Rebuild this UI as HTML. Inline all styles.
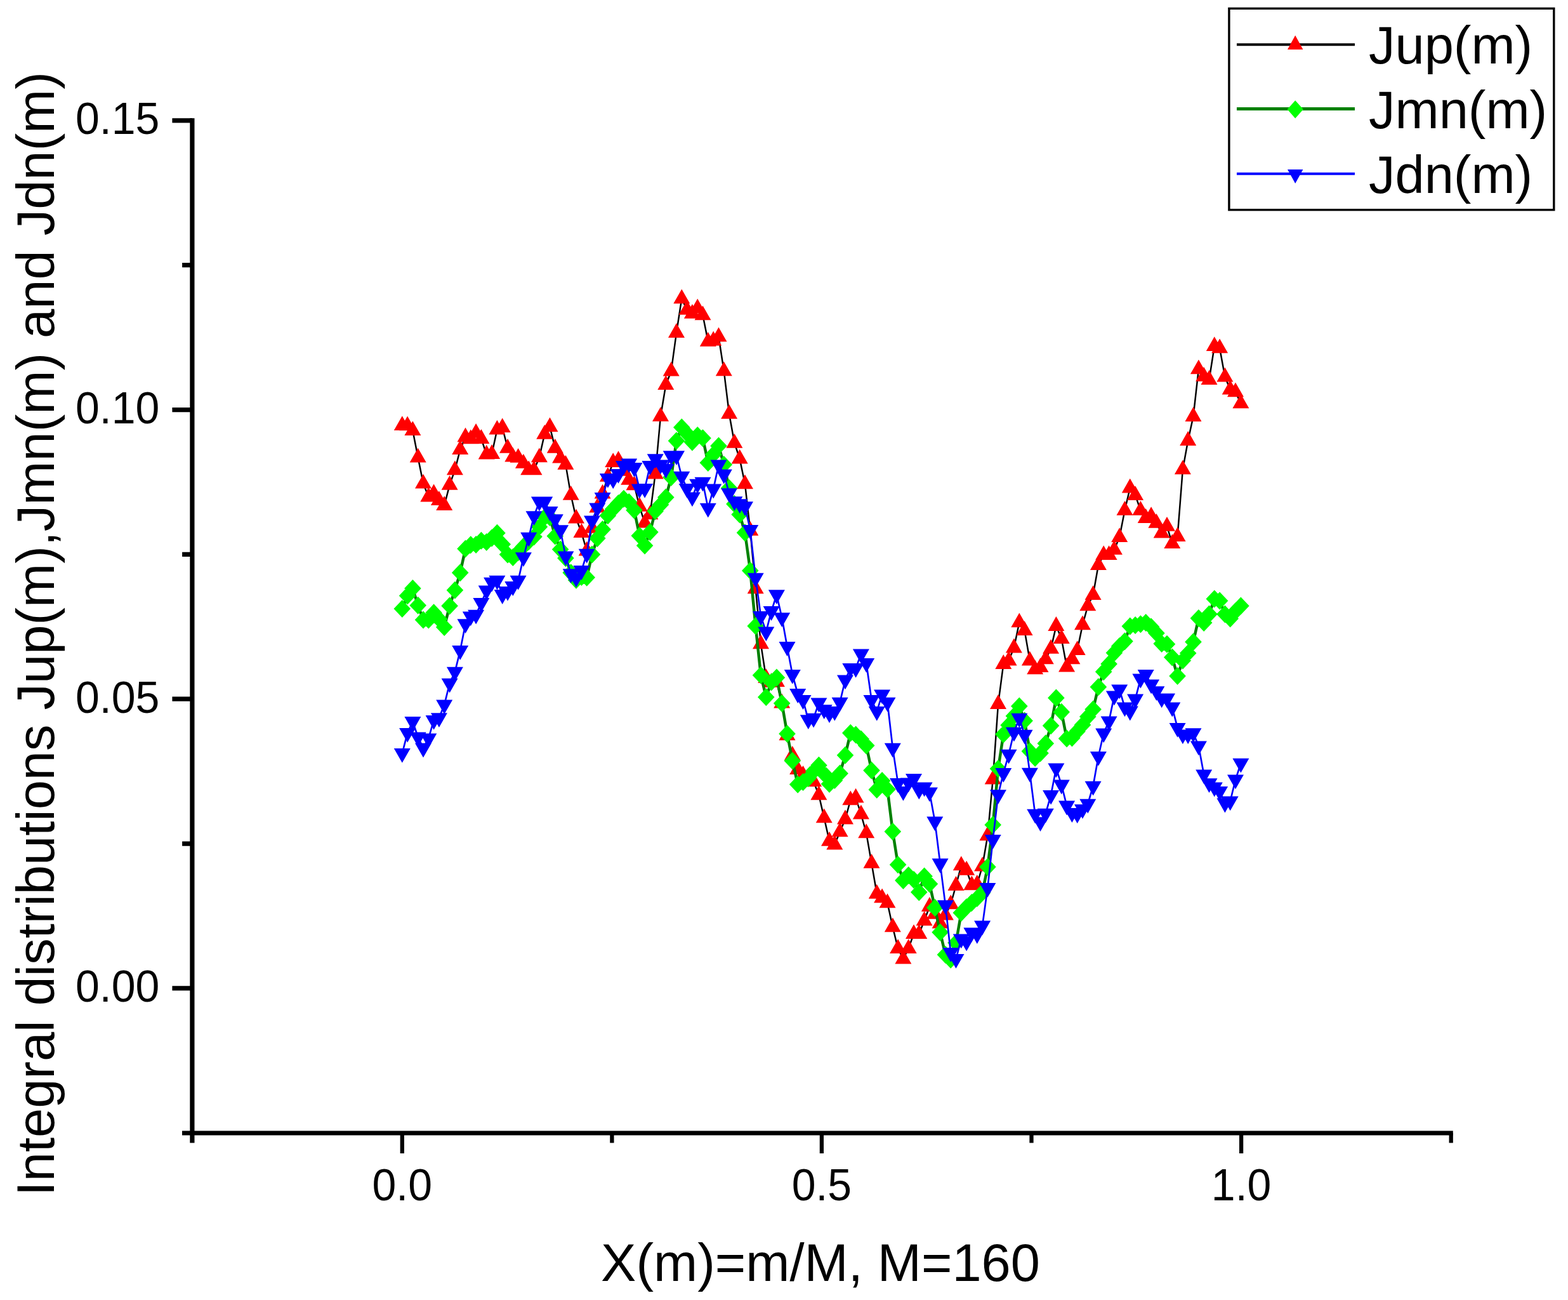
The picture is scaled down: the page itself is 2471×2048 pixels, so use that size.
<!DOCTYPE html>
<html lang="en">
<head>
<meta charset="utf-8">
<title>Integral distributions Jup(m), Jmn(m) and Jdn(m)</title>
<style>
html,body{margin:0;padding:0;background:#fff;}
html,body{width:2471px;height:2048px;}
svg{display:block;}
text{font-family:"Liberation Sans",sans-serif;fill:#000;}
.tk{font-size:68px;}
.ti{font-size:83px;}
.lg{font-size:83px;}
.ln{fill:none;stroke-linejoin:round;stroke-linecap:butt;}
</style>
</head>
<body>
<svg width="2471" height="2048" viewBox="0 0 2471 2048">
<rect x="0" y="0" width="2471" height="2048" fill="#ffffff"/>
<g id="axes">
<path d="M302.9 186.3V1800.5" stroke="#000" stroke-width="7.2" fill="none"/>
<path d="M287 1785.1H2289.8" stroke="#000" stroke-width="7.0" fill="none"/>
<path d="M271.4 189.9H302.9M271.4 645.6H302.9M271.4 1101.2H302.9M271.4 1556.9H302.9M287.1 417.7H302.9M287.1 873.4H302.9M287.1 1329.1H302.9" stroke="#000" stroke-width="7.2" fill="none"/>
<path d="M633.8 1785.1V1816.9M1294.9 1785.1V1816.9M1956.1 1785.1V1816.9M964.4 1785.1V1800.5M1625.5 1785.1V1800.5M2286.7 1785.1V1800.5" stroke="#000" stroke-width="6.3" fill="none"/>
</g>
<g id="ticklabels">
<text class="tk" transform="translate(251.3 211.2) scale(1 1.045)" text-anchor="end">0.15</text>
<text class="tk" transform="translate(251.3 666.9) scale(1 1.045)" text-anchor="end">0.10</text>
<text class="tk" transform="translate(251.3 1122.5) scale(1 1.045)" text-anchor="end">0.05</text>
<text class="tk" transform="translate(251.3 1578.2) scale(1 1.045)" text-anchor="end">0.00</text>
<text class="tk" transform="translate(633.8 1891.3) scale(1 1.045)" text-anchor="middle">0.0</text>
<text class="tk" transform="translate(1294.9 1891.3) scale(1 1.045)" text-anchor="middle">0.5</text>
<text class="tk" transform="translate(1956.1 1891.3) scale(1 1.045)" text-anchor="middle">1.0</text>
</g>
<text class="ti" x="1293" y="2018" text-anchor="middle">X(m)=m/M, M=160</text>
<text class="ti" transform="translate(84.5 998.7) rotate(-90)" text-anchor="middle">Integral distributions Jup(m),Jmn(m) and Jdn(m)</text>
<g id="jup">
<polyline class="ln" points="633.8,670.3 642.1,670.5 650.4,678.2 658.7,720.8 667,761.7 675.3,782.6 683.6,777.5 691.9,788.3 700.2,796.2 708.6,763.9 716.9,740.4 725.2,708.3 733.5,688.5 741.8,691.4 750.1,682 758.4,691.1 766.7,715.8 775.1,715.1 783.4,676.7 791.7,673.4 800,706 808.3,719.8 816.6,721 824.9,730 833.2,740.5 841.5,740.5 849.9,720.5 858.2,683.9 866.5,672.4 874.8,706 883.1,721.6 891.4,732 899.7,780 908,816.8 916.4,839.2 924.7,867.8 933,832 941.3,799.8 949.6,777.8 957.9,751 966.2,728.3 974.5,725.3 982.9,742 991.2,756 999.5,764.5 1007.8,798 1016.1,823.8 1024.4,810.5 1032.7,746.6 1041,656 1049.3,606.2 1057.7,584.7 1066,524.1 1074.3,470.4 1082.6,488 1090.9,493.9 1099.2,485.6 1107.5,496.4 1115.8,538 1124.2,536.6 1132.5,530.5 1140.8,584.4 1149.1,652 1157.4,698 1165.7,722.7 1174,762.5 1182.3,836 1190.7,927.4 1199,1014.5 1207.3,1068.3 1215.6,1075 1223.9,1074.1 1232.2,1107.6 1240.5,1158.5 1248.8,1190 1257.2,1212.3 1265.5,1220.9 1273.8,1226 1282.1,1231.4 1290.4,1252.5 1298.7,1288.4 1307,1325 1315.3,1330.6 1323.6,1310.5 1332,1290.6 1340.3,1260.4 1348.6,1256.8 1356.9,1282.7 1365.2,1312.5 1373.5,1360 1381.8,1408 1390.1,1414.5 1398.5,1422.4 1406.8,1460.4 1415.1,1494.2 1423.4,1510.7 1431.7,1494.2 1440,1471.2 1448.3,1471.2 1456.6,1450.4 1464.9,1428.1 1473.3,1440 1481.6,1454.7 1489.9,1441.8 1498.2,1424.5 1506.5,1395.1 1514.8,1363.5 1523.1,1371 1531.4,1394.4 1539.8,1393 1548.1,1364.8 1556.4,1316.5 1564.7,1227.7 1573,1109.1 1581.3,1046.1 1589.6,1040.7 1597.9,1020.6 1606.3,980.4 1614.6,993.3 1622.9,1040.7 1631.2,1054.4 1639.5,1051.2 1647.8,1038.5 1656.1,1022 1664.4,986.1 1672.8,1006.2 1681.1,1050.7 1689.4,1038.5 1697.7,1024.2 1706,984.4 1714.3,954.5 1722.6,937.3 1730.9,890.3 1739.2,874.2 1747.6,874.2 1755.9,866 1764.2,846.2 1772.5,803.9 1780.8,768.7 1789.1,780.2 1797.4,803.9 1805.7,816.1 1814.1,813.2 1822.4,824 1830.7,839.8 1839,829 1847.3,856.3 1855.6,845.3 1863.9,739.4 1872.2,694.1 1880.5,656.1 1888.9,581.5 1897.2,593 1905.5,598.1 1913.8,545.3 1922.1,548.5 1930.4,593.7 1938.7,613.6 1947,617.4 1955.4,635.4" stroke="#000000" stroke-width="2.5"/>
<path class="mk" d="M633.8 655.3L646.8 678.1L620.8 678.1ZM642.1 655.5L655.1 678.3L629.1 678.3ZM650.4 663.2L663.4 686L637.4 686ZM658.7 705.8L671.7 728.6L645.7 728.6ZM667 746.7L680 769.5L654 769.5ZM675.3 767.6L688.3 790.4L662.3 790.4ZM683.6 762.5L696.6 785.3L670.6 785.3ZM691.9 773.3L704.9 796.1L678.9 796.1ZM700.2 781.2L713.2 804L687.2 804ZM708.6 748.9L721.6 771.7L695.6 771.7ZM716.9 725.4L729.9 748.2L703.9 748.2ZM725.2 693.3L738.2 716.1L712.2 716.1ZM733.5 673.5L746.5 696.3L720.5 696.3ZM741.8 676.4L754.8 699.2L728.8 699.2ZM750.1 667L763.1 689.8L737.1 689.8ZM758.4 676.1L771.4 698.9L745.4 698.9ZM766.7 700.8L779.7 723.6L753.7 723.6ZM775.1 700.1L788.1 722.9L762.1 722.9ZM783.4 661.7L796.4 684.5L770.4 684.5ZM791.7 658.4L804.7 681.2L778.7 681.2ZM800 691L813 713.8L787 713.8ZM808.3 704.8L821.3 727.6L795.3 727.6ZM816.6 706L829.6 728.8L803.6 728.8ZM824.9 715L837.9 737.8L811.9 737.8ZM833.2 725.5L846.2 748.3L820.2 748.3ZM841.5 725.5L854.5 748.3L828.5 748.3ZM849.9 705.5L862.9 728.3L836.9 728.3ZM858.2 668.9L871.2 691.7L845.2 691.7ZM866.5 657.4L879.5 680.2L853.5 680.2ZM874.8 691L887.8 713.8L861.8 713.8ZM883.1 706.6L896.1 729.4L870.1 729.4ZM891.4 717L904.4 739.8L878.4 739.8ZM899.7 765L912.7 787.8L886.7 787.8ZM908 801.8L921 824.6L895 824.6ZM916.4 824.2L929.4 847L903.4 847ZM924.7 852.8L937.7 875.6L911.7 875.6ZM933 817L946 839.8L920 839.8ZM941.3 784.8L954.3 807.6L928.3 807.6ZM949.6 762.8L962.6 785.6L936.6 785.6ZM957.9 736L970.9 758.8L944.9 758.8ZM966.2 713.3L979.2 736.1L953.2 736.1ZM974.5 710.3L987.5 733.1L961.5 733.1ZM982.9 727L995.9 749.8L969.9 749.8ZM991.2 741L1004.2 763.8L978.2 763.8ZM999.5 749.5L1012.5 772.3L986.5 772.3ZM1007.8 783L1020.8 805.8L994.8 805.8ZM1016.1 808.8L1029.1 831.6L1003.1 831.6ZM1024.4 795.5L1037.4 818.3L1011.4 818.3ZM1032.7 731.6L1045.7 754.4L1019.7 754.4ZM1041 641L1054 663.8L1028 663.8ZM1049.3 591.2L1062.3 614L1036.3 614ZM1057.7 569.7L1070.7 592.5L1044.7 592.5ZM1066 509.1L1079 531.9L1053 531.9ZM1074.3 455.4L1087.3 478.2L1061.3 478.2ZM1082.6 473L1095.6 495.8L1069.6 495.8ZM1090.9 478.9L1103.9 501.7L1077.9 501.7ZM1099.2 470.6L1112.2 493.4L1086.2 493.4ZM1107.5 481.4L1120.5 504.2L1094.5 504.2ZM1115.8 523L1128.8 545.8L1102.8 545.8ZM1124.2 521.6L1137.2 544.4L1111.2 544.4ZM1132.5 515.5L1145.5 538.3L1119.5 538.3ZM1140.8 569.4L1153.8 592.2L1127.8 592.2ZM1149.1 637L1162.1 659.8L1136.1 659.8ZM1157.4 683L1170.4 705.8L1144.4 705.8ZM1165.7 707.7L1178.7 730.5L1152.7 730.5ZM1174 747.5L1187 770.3L1161 770.3ZM1182.3 821L1195.3 843.8L1169.3 843.8ZM1190.7 912.4L1203.7 935.2L1177.7 935.2ZM1199 999.5L1212 1022.3L1186 1022.3ZM1207.3 1053.3L1220.3 1076.1L1194.3 1076.1ZM1215.6 1060L1228.6 1082.8L1202.6 1082.8ZM1223.9 1059.1L1236.9 1081.9L1210.9 1081.9ZM1232.2 1092.6L1245.2 1115.4L1219.2 1115.4ZM1240.5 1143.5L1253.5 1166.3L1227.5 1166.3ZM1248.8 1175L1261.8 1197.8L1235.8 1197.8ZM1257.2 1197.3L1270.2 1220.1L1244.2 1220.1ZM1265.5 1205.9L1278.5 1228.7L1252.5 1228.7ZM1273.8 1211L1286.8 1233.8L1260.8 1233.8ZM1282.1 1216.4L1295.1 1239.2L1269.1 1239.2ZM1290.4 1237.5L1303.4 1260.3L1277.4 1260.3ZM1298.7 1273.4L1311.7 1296.2L1285.7 1296.2ZM1307 1310L1320 1332.8L1294 1332.8ZM1315.3 1315.6L1328.3 1338.4L1302.3 1338.4ZM1323.6 1295.5L1336.6 1318.3L1310.6 1318.3ZM1332 1275.6L1345 1298.4L1319 1298.4ZM1340.3 1245.4L1353.3 1268.2L1327.3 1268.2ZM1348.6 1241.8L1361.6 1264.6L1335.6 1264.6ZM1356.9 1267.7L1369.9 1290.5L1343.9 1290.5ZM1365.2 1297.5L1378.2 1320.3L1352.2 1320.3ZM1373.5 1345L1386.5 1367.8L1360.5 1367.8ZM1381.8 1393L1394.8 1415.8L1368.8 1415.8ZM1390.1 1399.5L1403.1 1422.3L1377.1 1422.3ZM1398.5 1407.4L1411.5 1430.2L1385.5 1430.2ZM1406.8 1445.4L1419.8 1468.2L1393.8 1468.2ZM1415.1 1479.2L1428.1 1502L1402.1 1502ZM1423.4 1495.7L1436.4 1518.5L1410.4 1518.5ZM1431.7 1479.2L1444.7 1502L1418.7 1502ZM1440 1456.2L1453 1479L1427 1479ZM1448.3 1456.2L1461.3 1479L1435.3 1479ZM1456.6 1435.4L1469.6 1458.2L1443.6 1458.2ZM1464.9 1413.1L1477.9 1435.9L1451.9 1435.9ZM1473.3 1425L1486.3 1447.8L1460.3 1447.8ZM1481.6 1439.7L1494.6 1462.5L1468.6 1462.5ZM1489.9 1426.8L1502.9 1449.6L1476.9 1449.6ZM1498.2 1409.5L1511.2 1432.3L1485.2 1432.3ZM1506.5 1380.1L1519.5 1402.9L1493.5 1402.9ZM1514.8 1348.5L1527.8 1371.3L1501.8 1371.3ZM1523.1 1356L1536.1 1378.8L1510.1 1378.8ZM1531.4 1379.4L1544.4 1402.2L1518.4 1402.2ZM1539.8 1378L1552.8 1400.8L1526.8 1400.8ZM1548.1 1349.8L1561.1 1372.6L1535.1 1372.6ZM1556.4 1301.5L1569.4 1324.3L1543.4 1324.3ZM1564.7 1212.7L1577.7 1235.5L1551.7 1235.5ZM1573 1094.1L1586 1116.9L1560 1116.9ZM1581.3 1031.1L1594.3 1053.9L1568.3 1053.9ZM1589.6 1025.7L1602.6 1048.5L1576.6 1048.5ZM1597.9 1005.6L1610.9 1028.4L1584.9 1028.4ZM1606.3 965.4L1619.3 988.2L1593.3 988.2ZM1614.6 978.3L1627.6 1001.1L1601.6 1001.1ZM1622.9 1025.7L1635.9 1048.5L1609.9 1048.5ZM1631.2 1039.4L1644.2 1062.2L1618.2 1062.2ZM1639.5 1036.2L1652.5 1059L1626.5 1059ZM1647.8 1023.5L1660.8 1046.3L1634.8 1046.3ZM1656.1 1007L1669.1 1029.8L1643.1 1029.8ZM1664.4 971.1L1677.4 993.9L1651.4 993.9ZM1672.8 991.2L1685.8 1014L1659.8 1014ZM1681.1 1035.7L1694.1 1058.5L1668.1 1058.5ZM1689.4 1023.5L1702.4 1046.3L1676.4 1046.3ZM1697.7 1009.2L1710.7 1032L1684.7 1032ZM1706 969.4L1719 992.2L1693 992.2ZM1714.3 939.5L1727.3 962.3L1701.3 962.3ZM1722.6 922.3L1735.6 945.1L1709.6 945.1ZM1730.9 875.3L1743.9 898.1L1717.9 898.1ZM1739.2 859.2L1752.2 882L1726.2 882ZM1747.6 859.2L1760.6 882L1734.6 882ZM1755.9 851L1768.9 873.8L1742.9 873.8ZM1764.2 831.2L1777.2 854L1751.2 854ZM1772.5 788.9L1785.5 811.7L1759.5 811.7ZM1780.8 753.7L1793.8 776.5L1767.8 776.5ZM1789.1 765.2L1802.1 788L1776.1 788ZM1797.4 788.9L1810.4 811.7L1784.4 811.7ZM1805.7 801.1L1818.7 823.9L1792.7 823.9ZM1814.1 798.2L1827.1 821L1801.1 821ZM1822.4 809L1835.4 831.8L1809.4 831.8ZM1830.7 824.8L1843.7 847.6L1817.7 847.6ZM1839 814L1852 836.8L1826 836.8ZM1847.3 841.3L1860.3 864.1L1834.3 864.1ZM1855.6 830.3L1868.6 853.1L1842.6 853.1ZM1863.9 724.4L1876.9 747.2L1850.9 747.2ZM1872.2 679.1L1885.2 701.9L1859.2 701.9ZM1880.5 641.1L1893.5 663.9L1867.5 663.9ZM1888.9 566.5L1901.9 589.3L1875.9 589.3ZM1897.2 578L1910.2 600.8L1884.2 600.8ZM1905.5 583.1L1918.5 605.9L1892.5 605.9ZM1913.8 530.3L1926.8 553.1L1900.8 553.1ZM1922.1 533.5L1935.1 556.3L1909.1 556.3ZM1930.4 578.7L1943.4 601.5L1917.4 601.5ZM1938.7 598.6L1951.7 621.4L1925.7 621.4ZM1947 602.4L1960 625.2L1934 625.2ZM1955.4 620.4L1968.4 643.2L1942.4 643.2Z" fill="#ff0000"/>
</g>
<g id="jmn">
<polyline class="ln" points="633.8,959.1 642.1,938.6 650.4,927.1 658.7,953.7 667,976.6 675.3,976.5 683.6,965.3 691.9,975.2 700.2,988 708.6,954.4 716.9,929.7 725.2,902.3 733.5,864.6 741.8,858.3 750.1,858 758.4,851.8 766.7,854 775.1,847.4 783.4,839.8 791.7,857.4 800,873.5 808.3,878.1 816.6,870 824.9,861 833.2,853 841.5,845.5 849.9,830 858.2,815 866.5,815 874.8,844.5 883.1,865.5 891.4,879.3 899.7,902.3 908,913.7 916.4,909 924.7,909.7 933,873.6 941.3,848 949.6,834 957.9,812.2 966.2,802 974.5,793 982.9,785.8 991.2,791 999.5,803.7 1007.8,843.9 1016.1,859.6 1024.4,838.2 1032.7,805.2 1041,795 1049.3,783.6 1057.7,752 1066,694.6 1074.3,673.2 1082.6,683 1090.9,696.6 1099.2,686.1 1107.5,690.3 1115.8,729 1124.2,716 1132.5,702.6 1140.8,731.9 1149.1,769 1157.4,794.1 1165.7,810.6 1174,839.3 1182.3,898.9 1190.7,986.2 1199,1063.7 1207.3,1098.2 1215.6,1074.4 1223.9,1067.5 1232.2,1108 1240.5,1155.9 1248.8,1198.4 1257.2,1235.7 1265.5,1232 1273.8,1226 1282.1,1215 1290.4,1205.7 1298.7,1219 1307,1234.9 1315.3,1229 1323.6,1218.5 1332,1189.8 1340.3,1154.8 1348.6,1157.4 1356.9,1164.6 1365.2,1174.6 1373.5,1213.8 1381.8,1243.9 1390.1,1229.9 1398.5,1243.5 1406.8,1310 1415.1,1362.2 1423.4,1386.9 1431.7,1379.1 1440,1386 1448.3,1405.4 1456.6,1380.6 1464.9,1392.6 1473.3,1430 1481.6,1468.7 1489.9,1503.9 1498.2,1511.7 1506.5,1485.3 1514.8,1437.9 1523.1,1429.3 1531.4,1422 1539.8,1414.9 1548.1,1406.3 1556.4,1365.8 1564.7,1299.5 1573,1211 1581.3,1156.8 1589.6,1142.4 1597.9,1128 1606.3,1112.6 1614.6,1135.4 1622.9,1183.5 1631.2,1194.1 1639.5,1186.4 1647.8,1171.3 1656.1,1143.3 1664.4,1099.6 1672.8,1121.8 1681.1,1163.4 1689.4,1162.5 1697.7,1151.9 1706,1141.9 1714.3,1128.9 1722.6,1117.4 1730.9,1082.3 1739.2,1058.3 1747.6,1046 1755.9,1028.6 1764.2,1018 1772.5,1010.3 1780.8,986.6 1789.1,985 1797.4,983.2 1805.7,980.9 1814.1,987.5 1822.4,997.6 1830.7,1014.1 1839,1014.8 1847.3,1035.6 1855.6,1065.1 1863.9,1040.5 1872.2,1029.1 1880.5,1011.2 1888.9,973.9 1897.2,980.9 1905.5,967.4 1913.8,943.6 1922.1,946.6 1930.4,967.4 1938.7,974.4 1947,963.1 1955.4,954.5" stroke="#008000" stroke-width="4.5"/>
<path class="mk" d="M633.8 945.1L647 959.1L633.8 973.1L620.5 959.1ZM642.1 924.6L655.4 938.6L642.1 952.6L628.8 938.6ZM650.4 913.1L663.7 927.1L650.4 941.1L637.1 927.1ZM658.7 939.7L672 953.7L658.7 967.7L645.4 953.7ZM667 962.6L680.3 976.6L667 990.6L653.7 976.6ZM675.3 962.5L688.6 976.5L675.3 990.5L662 976.5ZM683.6 951.3L696.9 965.3L683.6 979.3L670.3 965.3ZM691.9 961.2L705.2 975.2L691.9 989.2L678.6 975.2ZM700.2 974L713.5 988L700.2 1002L686.9 988ZM708.6 940.4L721.9 954.4L708.6 968.4L695.3 954.4ZM716.9 915.7L730.2 929.7L716.9 943.7L703.6 929.7ZM725.2 888.3L738.5 902.3L725.2 916.3L711.9 902.3ZM733.5 850.6L746.8 864.6L733.5 878.6L720.2 864.6ZM741.8 844.3L755.1 858.3L741.8 872.3L728.5 858.3ZM750.1 844L763.4 858L750.1 872L736.8 858ZM758.4 837.8L771.7 851.8L758.4 865.8L745.1 851.8ZM766.7 840L780 854L766.7 868L753.4 854ZM775.1 833.4L788.4 847.4L775.1 861.4L761.8 847.4ZM783.4 825.8L796.7 839.8L783.4 853.8L770.1 839.8ZM791.7 843.4L805 857.4L791.7 871.4L778.4 857.4ZM800 859.5L813.3 873.5L800 887.5L786.7 873.5ZM808.3 864.1L821.6 878.1L808.3 892.1L795 878.1ZM816.6 856L829.9 870L816.6 884L803.3 870ZM824.9 847L838.2 861L824.9 875L811.6 861ZM833.2 839L846.5 853L833.2 867L819.9 853ZM841.5 831.5L854.8 845.5L841.5 859.5L828.2 845.5ZM849.9 816L863.2 830L849.9 844L836.6 830ZM858.2 801L871.5 815L858.2 829L844.9 815ZM866.5 801L879.8 815L866.5 829L853.2 815ZM874.8 830.5L888.1 844.5L874.8 858.5L861.5 844.5ZM883.1 851.5L896.4 865.5L883.1 879.5L869.8 865.5ZM891.4 865.3L904.7 879.3L891.4 893.3L878.1 879.3ZM899.7 888.3L913 902.3L899.7 916.3L886.4 902.3ZM908 899.7L921.3 913.7L908 927.7L894.7 913.7ZM916.4 895L929.7 909L916.4 923L903.1 909ZM924.7 895.7L938 909.7L924.7 923.7L911.4 909.7ZM933 859.6L946.3 873.6L933 887.6L919.7 873.6ZM941.3 834L954.6 848L941.3 862L928 848ZM949.6 820L962.9 834L949.6 848L936.3 834ZM957.9 798.2L971.2 812.2L957.9 826.2L944.6 812.2ZM966.2 788L979.5 802L966.2 816L952.9 802ZM974.5 779L987.8 793L974.5 807L961.2 793ZM982.9 771.8L996.2 785.8L982.9 799.8L969.6 785.8ZM991.2 777L1004.5 791L991.2 805L977.9 791ZM999.5 789.7L1012.8 803.7L999.5 817.7L986.2 803.7ZM1007.8 829.9L1021.1 843.9L1007.8 857.9L994.5 843.9ZM1016.1 845.6L1029.4 859.6L1016.1 873.6L1002.8 859.6ZM1024.4 824.2L1037.7 838.2L1024.4 852.2L1011.1 838.2ZM1032.7 791.2L1046 805.2L1032.7 819.2L1019.4 805.2ZM1041 781L1054.3 795L1041 809L1027.7 795ZM1049.3 769.6L1062.6 783.6L1049.3 797.6L1036 783.6ZM1057.7 738L1071 752L1057.7 766L1044.4 752ZM1066 680.6L1079.3 694.6L1066 708.6L1052.7 694.6ZM1074.3 659.2L1087.6 673.2L1074.3 687.2L1061 673.2ZM1082.6 669L1095.9 683L1082.6 697L1069.3 683ZM1090.9 682.6L1104.2 696.6L1090.9 710.6L1077.6 696.6ZM1099.2 672.1L1112.5 686.1L1099.2 700.1L1085.9 686.1ZM1107.5 676.3L1120.8 690.3L1107.5 704.3L1094.2 690.3ZM1115.8 715L1129.1 729L1115.8 743L1102.5 729ZM1124.2 702L1137.5 716L1124.2 730L1110.9 716ZM1132.5 688.6L1145.8 702.6L1132.5 716.6L1119.2 702.6ZM1140.8 717.9L1154.1 731.9L1140.8 745.9L1127.5 731.9ZM1149.1 755L1162.4 769L1149.1 783L1135.8 769ZM1157.4 780.1L1170.7 794.1L1157.4 808.1L1144.1 794.1ZM1165.7 796.6L1179 810.6L1165.7 824.6L1152.4 810.6ZM1174 825.3L1187.3 839.3L1174 853.3L1160.7 839.3ZM1182.3 884.9L1195.6 898.9L1182.3 912.9L1169 898.9ZM1190.7 972.2L1204 986.2L1190.7 1000.2L1177.4 986.2ZM1199 1049.7L1212.3 1063.7L1199 1077.7L1185.7 1063.7ZM1207.3 1084.2L1220.6 1098.2L1207.3 1112.2L1194 1098.2ZM1215.6 1060.4L1228.9 1074.4L1215.6 1088.4L1202.3 1074.4ZM1223.9 1053.5L1237.2 1067.5L1223.9 1081.5L1210.6 1067.5ZM1232.2 1094L1245.5 1108L1232.2 1122L1218.9 1108ZM1240.5 1141.9L1253.8 1155.9L1240.5 1169.9L1227.2 1155.9ZM1248.8 1184.4L1262.1 1198.4L1248.8 1212.4L1235.5 1198.4ZM1257.2 1221.7L1270.5 1235.7L1257.2 1249.7L1243.9 1235.7ZM1265.5 1218L1278.8 1232L1265.5 1246L1252.2 1232ZM1273.8 1212L1287.1 1226L1273.8 1240L1260.5 1226ZM1282.1 1201L1295.4 1215L1282.1 1229L1268.8 1215ZM1290.4 1191.7L1303.7 1205.7L1290.4 1219.7L1277.1 1205.7ZM1298.7 1205L1312 1219L1298.7 1233L1285.4 1219ZM1307 1220.9L1320.3 1234.9L1307 1248.9L1293.7 1234.9ZM1315.3 1215L1328.6 1229L1315.3 1243L1302 1229ZM1323.6 1204.5L1336.9 1218.5L1323.6 1232.5L1310.3 1218.5ZM1332 1175.8L1345.3 1189.8L1332 1203.8L1318.7 1189.8ZM1340.3 1140.8L1353.6 1154.8L1340.3 1168.8L1327 1154.8ZM1348.6 1143.4L1361.9 1157.4L1348.6 1171.4L1335.3 1157.4ZM1356.9 1150.6L1370.2 1164.6L1356.9 1178.6L1343.6 1164.6ZM1365.2 1160.6L1378.5 1174.6L1365.2 1188.6L1351.9 1174.6ZM1373.5 1199.8L1386.8 1213.8L1373.5 1227.8L1360.2 1213.8ZM1381.8 1229.9L1395.1 1243.9L1381.8 1257.9L1368.5 1243.9ZM1390.1 1215.9L1403.4 1229.9L1390.1 1243.9L1376.8 1229.9ZM1398.5 1229.5L1411.8 1243.5L1398.5 1257.5L1385.2 1243.5ZM1406.8 1296L1420.1 1310L1406.8 1324L1393.5 1310ZM1415.1 1348.2L1428.4 1362.2L1415.1 1376.2L1401.8 1362.2ZM1423.4 1372.9L1436.7 1386.9L1423.4 1400.9L1410.1 1386.9ZM1431.7 1365.1L1445 1379.1L1431.7 1393.1L1418.4 1379.1ZM1440 1372L1453.3 1386L1440 1400L1426.7 1386ZM1448.3 1391.4L1461.6 1405.4L1448.3 1419.4L1435 1405.4ZM1456.6 1366.6L1469.9 1380.6L1456.6 1394.6L1443.3 1380.6ZM1464.9 1378.6L1478.2 1392.6L1464.9 1406.6L1451.6 1392.6ZM1473.3 1416L1486.6 1430L1473.3 1444L1460 1430ZM1481.6 1454.7L1494.9 1468.7L1481.6 1482.7L1468.3 1468.7ZM1489.9 1489.9L1503.2 1503.9L1489.9 1517.9L1476.6 1503.9ZM1498.2 1497.7L1511.5 1511.7L1498.2 1525.7L1484.9 1511.7ZM1506.5 1471.3L1519.8 1485.3L1506.5 1499.3L1493.2 1485.3ZM1514.8 1423.9L1528.1 1437.9L1514.8 1451.9L1501.5 1437.9ZM1523.1 1415.3L1536.4 1429.3L1523.1 1443.3L1509.8 1429.3ZM1531.4 1408L1544.7 1422L1531.4 1436L1518.1 1422ZM1539.8 1400.9L1553.1 1414.9L1539.8 1428.9L1526.5 1414.9ZM1548.1 1392.3L1561.4 1406.3L1548.1 1420.3L1534.8 1406.3ZM1556.4 1351.8L1569.7 1365.8L1556.4 1379.8L1543.1 1365.8ZM1564.7 1285.5L1578 1299.5L1564.7 1313.5L1551.4 1299.5ZM1573 1197L1586.3 1211L1573 1225L1559.7 1211ZM1581.3 1142.8L1594.6 1156.8L1581.3 1170.8L1568 1156.8ZM1589.6 1128.4L1602.9 1142.4L1589.6 1156.4L1576.3 1142.4ZM1597.9 1114L1611.2 1128L1597.9 1142L1584.6 1128ZM1606.3 1098.6L1619.6 1112.6L1606.3 1126.6L1593 1112.6ZM1614.6 1121.4L1627.9 1135.4L1614.6 1149.4L1601.3 1135.4ZM1622.9 1169.5L1636.2 1183.5L1622.9 1197.5L1609.6 1183.5ZM1631.2 1180.1L1644.5 1194.1L1631.2 1208.1L1617.9 1194.1ZM1639.5 1172.4L1652.8 1186.4L1639.5 1200.4L1626.2 1186.4ZM1647.8 1157.3L1661.1 1171.3L1647.8 1185.3L1634.5 1171.3ZM1656.1 1129.3L1669.4 1143.3L1656.1 1157.3L1642.8 1143.3ZM1664.4 1085.6L1677.7 1099.6L1664.4 1113.6L1651.1 1099.6ZM1672.8 1107.8L1686 1121.8L1672.8 1135.8L1659.5 1121.8ZM1681.1 1149.4L1694.4 1163.4L1681.1 1177.4L1667.8 1163.4ZM1689.4 1148.5L1702.7 1162.5L1689.4 1176.5L1676.1 1162.5ZM1697.7 1137.9L1711 1151.9L1697.7 1165.9L1684.4 1151.9ZM1706 1127.9L1719.3 1141.9L1706 1155.9L1692.7 1141.9ZM1714.3 1114.9L1727.6 1128.9L1714.3 1142.9L1701 1128.9ZM1722.6 1103.4L1735.9 1117.4L1722.6 1131.4L1709.3 1117.4ZM1730.9 1068.3L1744.2 1082.3L1730.9 1096.3L1717.6 1082.3ZM1739.2 1044.3L1752.5 1058.3L1739.2 1072.3L1725.9 1058.3ZM1747.6 1032L1760.9 1046L1747.6 1060L1734.3 1046ZM1755.9 1014.6L1769.2 1028.6L1755.9 1042.6L1742.6 1028.6ZM1764.2 1004L1777.5 1018L1764.2 1032L1750.9 1018ZM1772.5 996.3L1785.8 1010.3L1772.5 1024.3L1759.2 1010.3ZM1780.8 972.6L1794.1 986.6L1780.8 1000.6L1767.5 986.6ZM1789.1 971L1802.4 985L1789.1 999L1775.8 985ZM1797.4 969.2L1810.7 983.2L1797.4 997.2L1784.1 983.2ZM1805.7 966.9L1819 980.9L1805.7 994.9L1792.4 980.9ZM1814.1 973.5L1827.4 987.5L1814.1 1001.5L1800.8 987.5ZM1822.4 983.6L1835.7 997.6L1822.4 1011.6L1809.1 997.6ZM1830.7 1000.1L1844 1014.1L1830.7 1028.1L1817.4 1014.1ZM1839 1000.8L1852.3 1014.8L1839 1028.8L1825.7 1014.8ZM1847.3 1021.6L1860.6 1035.6L1847.3 1049.6L1834 1035.6ZM1855.6 1051.1L1868.9 1065.1L1855.6 1079.1L1842.3 1065.1ZM1863.9 1026.5L1877.2 1040.5L1863.9 1054.5L1850.6 1040.5ZM1872.2 1015.1L1885.5 1029.1L1872.2 1043.1L1858.9 1029.1ZM1880.5 997.2L1893.8 1011.2L1880.5 1025.2L1867.2 1011.2ZM1888.9 959.9L1902.2 973.9L1888.9 987.9L1875.6 973.9ZM1897.2 966.9L1910.5 980.9L1897.2 994.9L1883.9 980.9ZM1905.5 953.4L1918.8 967.4L1905.5 981.4L1892.2 967.4ZM1913.8 929.6L1927.1 943.6L1913.8 957.6L1900.5 943.6ZM1922.1 932.6L1935.4 946.6L1922.1 960.6L1908.8 946.6ZM1930.4 953.4L1943.7 967.4L1930.4 981.4L1917.1 967.4ZM1938.7 960.4L1952 974.4L1938.7 988.4L1925.4 974.4ZM1947 949.1L1960.3 963.1L1947 977.1L1933.7 963.1ZM1955.4 940.5L1968.7 954.5L1955.4 968.5L1942.1 954.5Z" fill="#00ff00"/>
</g>
<g id="jdn">
<polyline class="ln" points="633.8,1186.8 642.1,1154.8 650.4,1136.9 658.7,1161.3 667,1178.5 675.3,1163.4 683.6,1134.7 691.9,1131.1 700.2,1110.3 708.6,1076.5 716.9,1058.6 725.2,1024.7 733.5,983.1 741.8,971.3 750.1,968.5 758.4,949.8 766.7,930.4 775.1,917.5 783.4,914.6 791.7,936.9 800,931.8 808.3,923.9 816.6,914.6 824.9,878.1 833.2,846.5 841.5,813.1 849.9,790.4 858.2,790.4 866.5,805.9 874.8,818 883.1,835 891.4,876.4 899.7,904.1 908,910.6 916.4,898.9 924.7,872.5 933,820.2 941.3,800.3 949.6,783.8 957.9,753.8 966.2,755.3 974.5,746.7 982.9,733.8 991.2,730.2 999.5,736.7 1007.8,770.4 1016.1,769.7 1024.4,733.8 1032.7,723 1041,732.3 1049.3,738.8 1057.7,718 1066,718 1074.3,750.6 1082.6,769.7 1090.9,783.3 1099.2,762.5 1107.5,759.6 1115.8,800.6 1124.2,770.4 1132.5,732.3 1140.8,747.4 1149.1,777 1157.4,790 1165.7,794 1174,798.1 1182.3,834.7 1190.7,910.6 1199,970.8 1207.3,995.2 1215.6,962.9 1223.9,937 1232.2,973 1240.5,1018.9 1248.8,1062.7 1257.2,1092.9 1265.5,1102.9 1273.8,1134 1282.1,1131.6 1290.4,1107.2 1298.7,1118 1307,1124 1315.3,1120.7 1323.6,1106.5 1332,1071.3 1340.3,1052.7 1348.6,1052.7 1356.9,1030.4 1365.2,1044.8 1373.5,1102.9 1381.8,1120.7 1390.1,1094.3 1398.5,1106.5 1406.8,1178.6 1415.1,1233.9 1423.4,1246.8 1431.7,1233.3 1440,1226.7 1448.3,1244.6 1456.6,1240.3 1464.9,1248.2 1473.3,1294.2 1481.6,1360.4 1489.9,1426.1 1498.2,1500.8 1506.5,1510.8 1514.8,1479.2 1523.1,1483.5 1531.4,1469.2 1539.8,1472 1548.1,1458.4 1556.4,1398.8 1564.7,1322.8 1573,1252 1581.3,1217.8 1589.6,1188.5 1597.9,1153.6 1606.3,1131.5 1614.6,1157.5 1622.9,1217.5 1631.2,1282.5 1639.5,1295 1647.8,1281.6 1656.1,1252.7 1664.4,1210.3 1672.8,1236.4 1681.1,1269.4 1689.4,1280.9 1697.7,1282.3 1706,1275.1 1714.3,1266.5 1722.6,1238.5 1730.9,1191.8 1739.2,1155.2 1747.6,1136.2 1755.9,1096.4 1764.2,1086.3 1772.5,1114.3 1780.8,1120.4 1789.1,1101.4 1797.4,1069.4 1805.7,1062.8 1814.1,1078.3 1822.4,1089 1830.7,1100.2 1839,1100.4 1847.3,1114.4 1855.6,1146.7 1863.9,1157.3 1872.2,1157.3 1880.5,1155 1888.9,1175.3 1897.2,1220.3 1905.5,1234.1 1913.8,1240.4 1922.1,1246.7 1930.4,1265.4 1938.7,1262.2 1947,1228.3 1955.4,1202.5" stroke="#0000ff" stroke-width="2.7"/>
<path class="mk" d="M633.8 1201.8L646.8 1179L620.8 1179ZM642.1 1169.8L655.1 1147L629.1 1147ZM650.4 1151.9L663.4 1129.1L637.4 1129.1ZM658.7 1176.3L671.7 1153.5L645.7 1153.5ZM667 1193.5L680 1170.7L654 1170.7ZM675.3 1178.4L688.3 1155.6L662.3 1155.6ZM683.6 1149.7L696.6 1126.9L670.6 1126.9ZM691.9 1146.1L704.9 1123.3L678.9 1123.3ZM700.2 1125.3L713.2 1102.5L687.2 1102.5ZM708.6 1091.5L721.6 1068.7L695.6 1068.7ZM716.9 1073.6L729.9 1050.8L703.9 1050.8ZM725.2 1039.7L738.2 1016.9L712.2 1016.9ZM733.5 998.1L746.5 975.3L720.5 975.3ZM741.8 986.3L754.8 963.5L728.8 963.5ZM750.1 983.5L763.1 960.7L737.1 960.7ZM758.4 964.8L771.4 942L745.4 942ZM766.7 945.4L779.7 922.6L753.7 922.6ZM775.1 932.5L788.1 909.7L762.1 909.7ZM783.4 929.6L796.4 906.8L770.4 906.8ZM791.7 951.9L804.7 929.1L778.7 929.1ZM800 946.8L813 924L787 924ZM808.3 938.9L821.3 916.1L795.3 916.1ZM816.6 929.6L829.6 906.8L803.6 906.8ZM824.9 893.1L837.9 870.3L811.9 870.3ZM833.2 861.5L846.2 838.7L820.2 838.7ZM841.5 828.1L854.5 805.3L828.5 805.3ZM849.9 805.4L862.9 782.6L836.9 782.6ZM858.2 805.4L871.2 782.6L845.2 782.6ZM866.5 820.9L879.5 798.1L853.5 798.1ZM874.8 833L887.8 810.2L861.8 810.2ZM883.1 850L896.1 827.2L870.1 827.2ZM891.4 891.4L904.4 868.6L878.4 868.6ZM899.7 919.1L912.7 896.3L886.7 896.3ZM908 925.6L921 902.8L895 902.8ZM916.4 913.9L929.4 891.1L903.4 891.1ZM924.7 887.5L937.7 864.7L911.7 864.7ZM933 835.2L946 812.4L920 812.4ZM941.3 815.3L954.3 792.5L928.3 792.5ZM949.6 798.8L962.6 776L936.6 776ZM957.9 768.8L970.9 746L944.9 746ZM966.2 770.3L979.2 747.5L953.2 747.5ZM974.5 761.7L987.5 738.9L961.5 738.9ZM982.9 748.8L995.9 726L969.9 726ZM991.2 745.2L1004.2 722.4L978.2 722.4ZM999.5 751.7L1012.5 728.9L986.5 728.9ZM1007.8 785.4L1020.8 762.6L994.8 762.6ZM1016.1 784.7L1029.1 761.9L1003.1 761.9ZM1024.4 748.8L1037.4 726L1011.4 726ZM1032.7 738L1045.7 715.2L1019.7 715.2ZM1041 747.3L1054 724.5L1028 724.5ZM1049.3 753.8L1062.3 731L1036.3 731ZM1057.7 733L1070.7 710.2L1044.7 710.2ZM1066 733L1079 710.2L1053 710.2ZM1074.3 765.6L1087.3 742.8L1061.3 742.8ZM1082.6 784.7L1095.6 761.9L1069.6 761.9ZM1090.9 798.3L1103.9 775.5L1077.9 775.5ZM1099.2 777.5L1112.2 754.7L1086.2 754.7ZM1107.5 774.6L1120.5 751.8L1094.5 751.8ZM1115.8 815.6L1128.8 792.8L1102.8 792.8ZM1124.2 785.4L1137.2 762.6L1111.2 762.6ZM1132.5 747.3L1145.5 724.5L1119.5 724.5ZM1140.8 762.4L1153.8 739.6L1127.8 739.6ZM1149.1 792L1162.1 769.2L1136.1 769.2ZM1157.4 805L1170.4 782.2L1144.4 782.2ZM1165.7 809L1178.7 786.2L1152.7 786.2ZM1174 813.1L1187 790.3L1161 790.3ZM1182.3 849.7L1195.3 826.9L1169.3 826.9ZM1190.7 925.6L1203.7 902.8L1177.7 902.8ZM1199 985.8L1212 963L1186 963ZM1207.3 1010.2L1220.3 987.4L1194.3 987.4ZM1215.6 977.9L1228.6 955.1L1202.6 955.1ZM1223.9 952L1236.9 929.2L1210.9 929.2ZM1232.2 988L1245.2 965.2L1219.2 965.2ZM1240.5 1033.9L1253.5 1011.1L1227.5 1011.1ZM1248.8 1077.7L1261.8 1054.9L1235.8 1054.9ZM1257.2 1107.9L1270.2 1085.1L1244.2 1085.1ZM1265.5 1117.9L1278.5 1095.1L1252.5 1095.1ZM1273.8 1149L1286.8 1126.2L1260.8 1126.2ZM1282.1 1146.6L1295.1 1123.8L1269.1 1123.8ZM1290.4 1122.2L1303.4 1099.4L1277.4 1099.4ZM1298.7 1133L1311.7 1110.2L1285.7 1110.2ZM1307 1139L1320 1116.2L1294 1116.2ZM1315.3 1135.7L1328.3 1112.9L1302.3 1112.9ZM1323.6 1121.5L1336.6 1098.7L1310.6 1098.7ZM1332 1086.3L1345 1063.5L1319 1063.5ZM1340.3 1067.7L1353.3 1044.9L1327.3 1044.9ZM1348.6 1067.7L1361.6 1044.9L1335.6 1044.9ZM1356.9 1045.4L1369.9 1022.6L1343.9 1022.6ZM1365.2 1059.8L1378.2 1037L1352.2 1037ZM1373.5 1117.9L1386.5 1095.1L1360.5 1095.1ZM1381.8 1135.7L1394.8 1112.9L1368.8 1112.9ZM1390.1 1109.3L1403.1 1086.5L1377.1 1086.5ZM1398.5 1121.5L1411.5 1098.7L1385.5 1098.7ZM1406.8 1193.6L1419.8 1170.8L1393.8 1170.8ZM1415.1 1248.9L1428.1 1226.1L1402.1 1226.1ZM1423.4 1261.8L1436.4 1239L1410.4 1239ZM1431.7 1248.3L1444.7 1225.5L1418.7 1225.5ZM1440 1241.7L1453 1218.9L1427 1218.9ZM1448.3 1259.6L1461.3 1236.8L1435.3 1236.8ZM1456.6 1255.3L1469.6 1232.5L1443.6 1232.5ZM1464.9 1263.2L1477.9 1240.4L1451.9 1240.4ZM1473.3 1309.2L1486.3 1286.4L1460.3 1286.4ZM1481.6 1375.4L1494.6 1352.6L1468.6 1352.6ZM1489.9 1441.1L1502.9 1418.3L1476.9 1418.3ZM1498.2 1515.8L1511.2 1493L1485.2 1493ZM1506.5 1525.8L1519.5 1503L1493.5 1503ZM1514.8 1494.2L1527.8 1471.4L1501.8 1471.4ZM1523.1 1498.5L1536.1 1475.7L1510.1 1475.7ZM1531.4 1484.2L1544.4 1461.4L1518.4 1461.4ZM1539.8 1487L1552.8 1464.2L1526.8 1464.2ZM1548.1 1473.4L1561.1 1450.6L1535.1 1450.6ZM1556.4 1413.8L1569.4 1391L1543.4 1391ZM1564.7 1337.8L1577.7 1315L1551.7 1315ZM1573 1267L1586 1244.2L1560 1244.2ZM1581.3 1232.8L1594.3 1210L1568.3 1210ZM1589.6 1203.5L1602.6 1180.7L1576.6 1180.7ZM1597.9 1168.6L1610.9 1145.8L1584.9 1145.8ZM1606.3 1146.5L1619.3 1123.7L1593.3 1123.7ZM1614.6 1172.5L1627.6 1149.7L1601.6 1149.7ZM1622.9 1232.5L1635.9 1209.7L1609.9 1209.7ZM1631.2 1297.5L1644.2 1274.7L1618.2 1274.7ZM1639.5 1310L1652.5 1287.2L1626.5 1287.2ZM1647.8 1296.6L1660.8 1273.8L1634.8 1273.8ZM1656.1 1267.7L1669.1 1244.9L1643.1 1244.9ZM1664.4 1225.3L1677.4 1202.5L1651.4 1202.5ZM1672.8 1251.4L1685.8 1228.6L1659.8 1228.6ZM1681.1 1284.4L1694.1 1261.6L1668.1 1261.6ZM1689.4 1295.9L1702.4 1273.1L1676.4 1273.1ZM1697.7 1297.3L1710.7 1274.5L1684.7 1274.5ZM1706 1290.1L1719 1267.3L1693 1267.3ZM1714.3 1281.5L1727.3 1258.7L1701.3 1258.7ZM1722.6 1253.5L1735.6 1230.7L1709.6 1230.7ZM1730.9 1206.8L1743.9 1184L1717.9 1184ZM1739.2 1170.2L1752.2 1147.4L1726.2 1147.4ZM1747.6 1151.2L1760.6 1128.4L1734.6 1128.4ZM1755.9 1111.4L1768.9 1088.6L1742.9 1088.6ZM1764.2 1101.3L1777.2 1078.5L1751.2 1078.5ZM1772.5 1129.3L1785.5 1106.5L1759.5 1106.5ZM1780.8 1135.4L1793.8 1112.6L1767.8 1112.6ZM1789.1 1116.4L1802.1 1093.6L1776.1 1093.6ZM1797.4 1084.4L1810.4 1061.6L1784.4 1061.6ZM1805.7 1077.8L1818.7 1055L1792.7 1055ZM1814.1 1093.3L1827.1 1070.5L1801.1 1070.5ZM1822.4 1104L1835.4 1081.2L1809.4 1081.2ZM1830.7 1115.2L1843.7 1092.4L1817.7 1092.4ZM1839 1115.4L1852 1092.6L1826 1092.6ZM1847.3 1129.4L1860.3 1106.6L1834.3 1106.6ZM1855.6 1161.7L1868.6 1138.9L1842.6 1138.9ZM1863.9 1172.3L1876.9 1149.5L1850.9 1149.5ZM1872.2 1172.3L1885.2 1149.5L1859.2 1149.5ZM1880.5 1170L1893.5 1147.2L1867.5 1147.2ZM1888.9 1190.3L1901.9 1167.5L1875.9 1167.5ZM1897.2 1235.3L1910.2 1212.5L1884.2 1212.5ZM1905.5 1249.1L1918.5 1226.3L1892.5 1226.3ZM1913.8 1255.4L1926.8 1232.6L1900.8 1232.6ZM1922.1 1261.7L1935.1 1238.9L1909.1 1238.9ZM1930.4 1280.4L1943.4 1257.6L1917.4 1257.6ZM1938.7 1277.2L1951.7 1254.4L1925.7 1254.4ZM1947 1243.3L1960 1220.5L1934 1220.5ZM1955.4 1217.5L1968.4 1194.7L1942.4 1194.7Z" fill="#0000ff"/>
</g>
<g id="legend">
<rect x="1936.9" y="13.4" width="511.9" height="317.2" fill="#fff" stroke="#000" stroke-width="3.4"/>
<path d="M1949 70.2H2135" stroke="#000000" stroke-width="4.0" fill="none"/>
<path d="M2041.2 55.7L2053.4 77.9L2029 77.9Z" fill="#ff0000"/>
<text class="lg" x="2157" y="100">Jup(m)</text>
<path d="M1949 171.5H2135" stroke="#008000" stroke-width="5.2" fill="none"/>
<path d="M2041.2 158.2L2053.8 172.3L2041.2 186.4L2028.6 172.3Z" fill="#00ff00"/>
<text class="lg" x="2157" y="202">Jmn(m)</text>
<path d="M1949 273.8H2135" stroke="#0000ff" stroke-width="3.9" fill="none"/>
<path d="M2041.2 289.1L2053.4 266.9L2029 266.9Z" fill="#0000ff"/>
<text class="lg" x="2157" y="304">Jdn(m)</text>
</g>
</svg>
</body>
</html>
